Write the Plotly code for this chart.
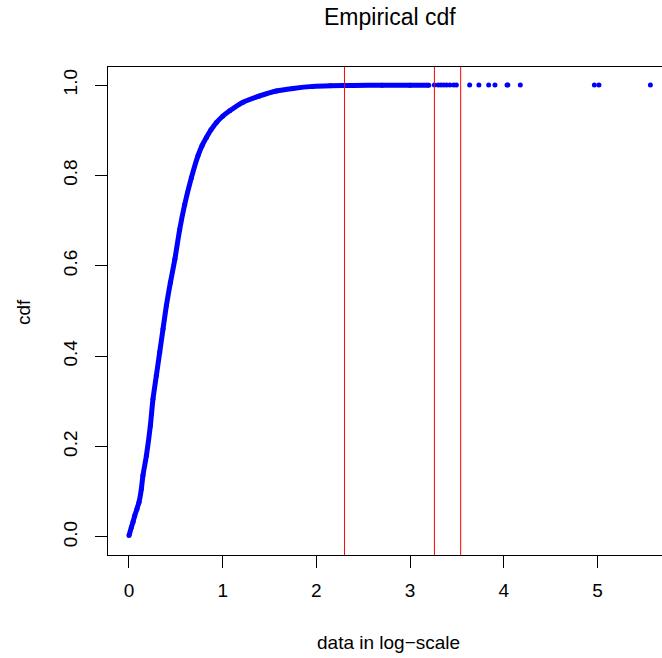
import plotly.graph_objects as go

# ECDF curve (x in log-scale, cdf)
curve_x = [0.0, 0.025, 0.043, 0.061, 0.085, 0.107, 0.132, 0.149, 0.186, 0.228, 0.256,
           0.292, 0.328, 0.363, 0.399, 0.442, 0.49, 0.541, 0.594, 0.666, 0.737,
           0.78, 0.826, 0.875, 0.933, 1.0, 1.075, 1.217, 1.395, 1.573, 1.75, 1.964,
           2.15, 2.4, 2.7, 3.0, 3.2]
curve_y = [0.003, 0.021, 0.033, 0.047, 0.062, 0.077, 0.106, 0.136, 0.180, 0.246, 0.305,
           0.357, 0.409, 0.460, 0.512, 0.563, 0.615, 0.68, 0.735, 0.795, 0.844,
           0.866, 0.884, 0.901, 0.917, 0.931, 0.943, 0.962, 0.976, 0.987, 0.9926, 0.9971,
           0.9985, 0.9992, 0.9995, 0.9997, 0.9998]

# sparse tail observations
tail_x = [3.26, 3.30, 3.33, 3.36, 3.39, 3.425, 3.466, 3.494, 3.636, 3.735, 3.839,
          3.906, 4.035, 4.045, 4.177, 4.967, 5.016, 5.565]
tail_y = [1.0] * len(tail_x)

# vertical reference lines
vlines = [2.30, 3.26, 3.54]

x_ticks = [0, 1, 2, 3, 4, 5]
y_ticks = [0.0, 0.2, 0.4, 0.6, 0.8, 1.0]

FONT = "Liberation Sans, Arial, Helvetica, sans-serif"

fig = go.Figure()
fig.add_trace(go.Scatter(x=curve_x, y=curve_y, mode="lines+markers",
                         line=dict(color="#0000ff", width=5, shape="spline", smoothing=0.6),
                         marker=dict(color="#0000ff", size=5),
                         hoverinfo="skip", showlegend=False))
fig.add_trace(go.Scatter(x=tail_x, y=tail_y, mode="markers",
                         marker=dict(color="#0000ff", size=5),
                         showlegend=False))

for v in vlines:
    fig.add_shape(type="line", x0=v, x1=v, y0=0, y1=1, xref="x", yref="paper",
                  line=dict(color="#ff0000", width=1))

fig.update_layout(
    width=662, height=658, autosize=False,
    margin=dict(l=108, r=0, t=67, b=103, pad=0),
    paper_bgcolor="white", plot_bgcolor="white",
    font=dict(family=FONT, size=19, color="black"),
    xaxis=dict(range=[-0.224, 5.689], tickvals=x_ticks, ticktext=[str(t) for t in x_ticks],
               showgrid=False, zeroline=False, showline=True, mirror=True,
               linecolor="black", linewidth=1.3, ticks="outside", ticklen=12,
               tickwidth=1, tickcolor="black", ticklabelstandoff=6),
    yaxis=dict(range=[-0.04, 1.04], tickvals=y_ticks, ticktext=["%.1f" % t for t in y_ticks],
               showgrid=False, zeroline=False, showline=True, mirror=False,
               linecolor="black", linewidth=1.3, ticks="outside", ticklen=12,
               tickwidth=1, tickcolor="black", tickangle=-90, ticklabelstandoff=10),
    annotations=[
        dict(text="Empirical cdf", x=0.509, y=1.1025, xref="paper", yref="paper",
             showarrow=False, xanchor="center", yanchor="middle",
             font=dict(size=23, family=FONT)),
        dict(text="data in log\u2212scale", x=0.507, y=-0.180, xref="paper", yref="paper",
             showarrow=False, xanchor="center", yanchor="middle",
             font=dict(size=19, family=FONT)),
        dict(text="cdf", x=-0.1516, y=0.498, xref="paper", yref="paper",
             showarrow=False, xanchor="center", yanchor="middle", textangle=-90,
             font=dict(size=19, family=FONT)),
    ],
)

fig.write_html("out.html", config={"displayModeBar": False},
               post_script="document.body.style.margin='0px';"
                           "document.body.style.overflow='hidden';")
